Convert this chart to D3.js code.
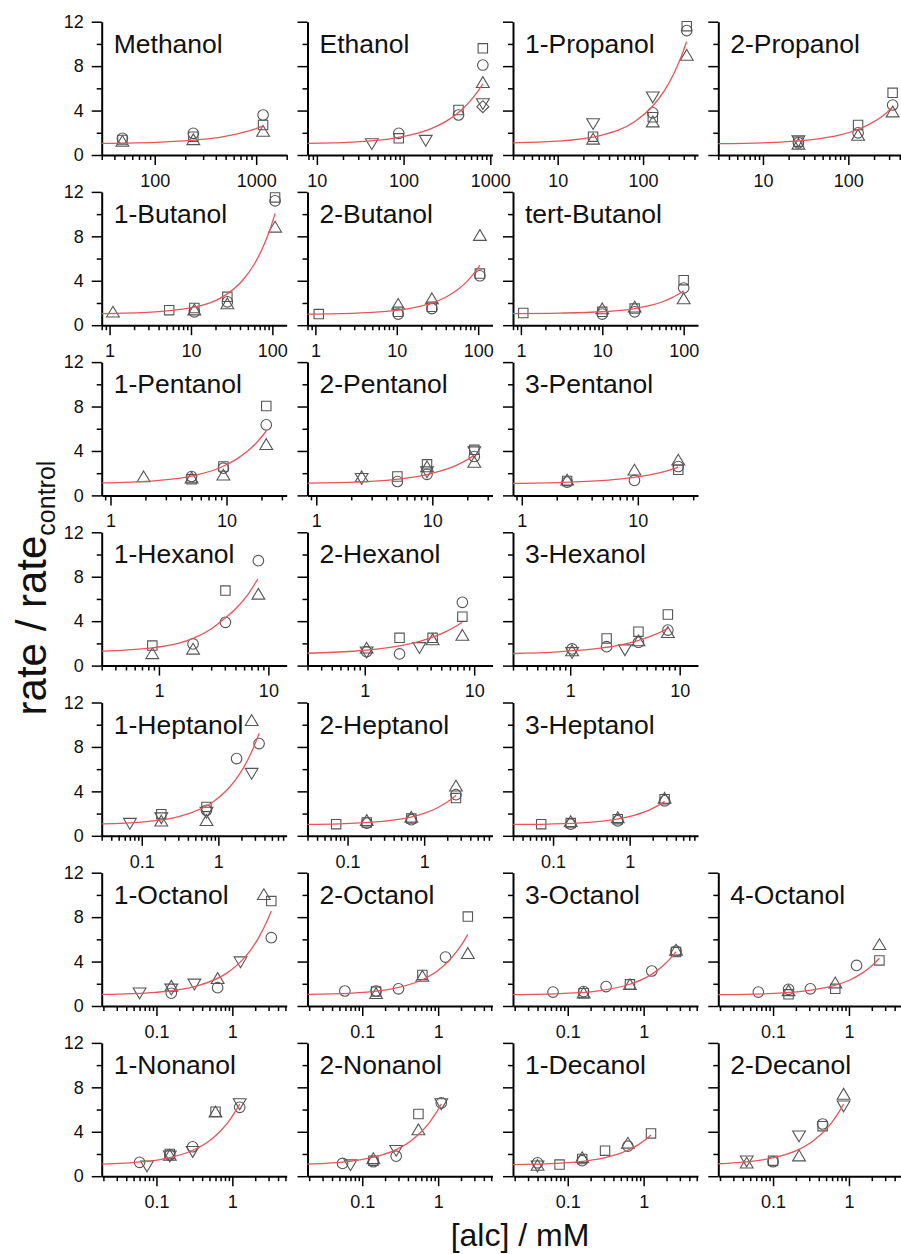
<!DOCTYPE html>
<html>
<head>
<meta charset="utf-8">
<script src="https://cdn.jsdelivr.net/npm/d3@7"></script>
<style>
  body { margin: 0; background: #fff; }
  text { font-family: "Liberation Sans", Arial, sans-serif; }
</style>
</head>
<body>
<svg id="chart" width="901" height="1254"></svg>
<script>
// ---- data ----
const names = ["Methanol", "Ethanol", "1-Propanol", "2-Propanol",
  "1-Butanol", "2-Butanol", "tert-Butanol",
  "1-Pentanol", "2-Pentanol", "3-Pentanol",
  "1-Hexanol", "2-Hexanol", "3-Hexanol",
  "1-Heptanol", "2-Heptanol", "3-Heptanol",
  "1-Octanol", "2-Octanol", "3-Octanol", "4-Octanol",
  "1-Nonanol", "2-Nonanol", "1-Decanol", "2-Decanol"];

const xDomains = [[30, 2000], [7.8, 1060], [3, 440], [3, 440],
  [0.8, 150], [0.8, 150], [0.8, 150],
  [0.84, 33], [0.84, 33], [0.84, 33],
  [0.3, 14.7], [0.3, 14.7], [0.3, 14.7],
  [0.03, 7.8], [0.03, 7.8], [0.03, 7.8],
  [0.019, 5.2], [0.019, 5.2], [0.019, 5.2], [0.019, 5.2],
  [0.019, 5.2], [0.019, 5.2], [0.019, 5.2], [0.019, 5.2]];

const xTickLabels = [["100", "1000"], ["10", "100", "1000"], ["10", "100"], ["10", "100"],
  ["1", "10", "100"], ["1", "10", "100"], ["1", "10", "100"],
  ["1", "10"], ["1", "10"], ["1", "10"],
  ["1", "10"], ["1", "10"], ["1", "10"],
  ["0.1", "1"], ["0.1", "1"], ["0.1", "1"],
  ["0.1", "1"], ["0.1", "1"], ["0.1", "1"], ["0.1", "1"],
  ["0.1", "1"], ["0.1", "1"], ["0.1", "1"], ["0.1", "1"]];

const yMajor = [0, 4, 8, 12];
const yTickLabels = ["0", "4", "8", "12"];
const yMinor = [2, 6, 10];

// points: [conc, rate ratio, symbol]  o circle, s square, t up-triangle, v down-triangle, d diamond
const methanolPts = [[48,1.5,"o"],[48,1.35,"s"],[48,1.25,"t"],[240,1.95,"o"],[240,1.65,"s"],[240,1.4,"t"],
  [1170,3.6,"o"],[1170,2.7,"s"],[1170,2.15,"t"]];
const ethanolPts = [[43,1.0,"v"],[88,1.95,"o"],[88,1.5,"s"],[180,1.3,"v"],[430,4.05,"s"],[430,3.6,"o"],
  [820,9.6,"s"],[820,8.1,"o"],[820,6.55,"t"],[820,4.6,"v"],[820,4.35,"d"]];
const propanol1Pts = [[26,2.8,"v"],[26,1.65,"s"],[26,1.45,"t"],[130,5.2,"v"],[130,3.8,"o"],[130,3.4,"s"],[130,3.0,"t"],
  [325,11.2,"o"],[325,11.6,"s"],[325,9.0,"t"]];
const propanol2Pts = [[26,1.2,"s"],[26,1.25,"v"],[26,1.0,"t"],[26,1.1,"o"],[130,2.7,"s"],[130,2.0,"o"],[130,1.8,"t"],
  [330,5.6,"s"],[330,4.5,"o"],[330,3.9,"t"]];
const butanol1Pts = [[1.1,1.2,"t"],[5.4,1.35,"s"],[11,1.55,"s"],[11,1.2,"o"],[11,1.4,"t"],[28,2.55,"s"],[28,2.1,"o"],[28,1.95,"t"],
  [108,11.5,"s"],[108,11.2,"o"],[108,8.85,"t"]];
const butanol2Pts = [[1.1,1.0,"s"],[10.4,1.9,"t"],[10.4,1.2,"s"],[10.4,1.0,"o"],[27,2.4,"t"],[27,1.65,"s"],[27,1.5,"o"],
  [105,8.1,"t"],[105,4.65,"s"],[105,4.45,"o"]];
const tertButanolPts = [[1.07,1.1,"s"],[10,1.5,"t"],[10,1.2,"s"],[10,1.0,"o"],[25,1.5,"s"],[25,1.65,"t"],[25,1.2,"o"],
  [100,4.05,"s"],[100,3.35,"o"],[100,2.4,"t"]];
const pentanol1Pts = [[1.93,1.7,"t"],[5,1.45,"s"],[5,1.7,"o"],[5,1.6,"t"],[9.4,2.6,"s"],[9.4,2.45,"o"],[9.4,1.85,"t"],
  [22,8.05,"s"],[22,6.35,"o"],[22,4.6,"t"]];
const pentanol2Pts = [[2.46,1.5,"v"],[2.46,1.7,"t"],[5,1.7,"s"],[5,1.25,"o"],[9,2.8,"s"],[9,2.6,"t"],[9,2.1,"v"],[9,1.9,"o"],
  [23,4.1,"s"],[23,3.9,"v"],[23,3.5,"o"],[23,3.0,"t"]];
const pentanol3Pts = [[2.46,1.2,"o"],[2.46,1.4,"t"],[2.46,1.3,"s"],[9.35,2.3,"t"],[9.35,1.35,"o"],
  [22.3,3.2,"t"],[22.3,2.3,"s"],[22.3,2.6,"o"]];
const hexanol1Pts = [[0.87,1.8,"s"],[0.87,1.1,"t"],[2.05,1.95,"o"],[2.05,1.5,"t"],[4.05,6.75,"s"],[4.05,3.9,"o"],
  [8.1,9.45,"o"],[8.1,6.45,"t"]];
const hexanol2Pts = [[1.04,1.6,"t"],[1.04,1.2,"v"],[1.04,1.25,"o"],[2.08,2.5,"s"],[2.08,1.05,"o"],[3.16,1.6,"v"],
  [4.17,2.35,"t"],[4.17,2.5,"s"],[7.8,5.7,"o"],[7.8,4.4,"s"],[7.8,2.75,"t"]];
const hexanol3Pts = [[1.04,1.5,"o"],[1.04,1.15,"v"],[1.04,1.35,"t"],[2.15,2.45,"s"],[2.15,1.7,"o"],[3.16,1.4,"v"],
  [4.2,3.05,"s"],[4.2,2.25,"t"],[4.2,2.1,"o"],[7.8,4.6,"s"],[7.8,3.2,"o"],[7.8,3.0,"t"]];
const heptanol1Pts = [[0.07,1.1,"v"],[0.18,1.95,"s"],[0.18,1.6,"v"],[0.18,1.35,"t"],[0.7,2.6,"s"],[0.7,2.3,"o"],[0.7,2.1,"v"],[0.7,1.4,"t"],
  [1.73,6.95,"o"],[2.72,5.6,"v"],[2.72,10.4,"t"],[3.4,8.3,"o"]];
const heptanol2Pts = [[0.071,1.05,"s"],[0.178,1.4,"t"],[0.178,1.15,"o"],[0.178,1.2,"s"],[0.68,1.7,"t"],[0.68,1.45,"o"],[0.68,1.55,"s"],
  [2.6,4.5,"t"],[2.6,3.7,"o"],[2.6,3.4,"s"]];
const heptanol3Pts = [[0.07,1.05,"s"],[0.17,1.3,"t"],[0.17,1.05,"o"],[0.17,1.15,"s"],[0.7,1.65,"t"],[0.7,1.35,"o"],[0.7,1.5,"s"],
  [2.86,3.4,"t"],[2.86,3.15,"o"],[2.86,3.3,"s"]];
const octanol1Pts = [[0.06,1.15,"v"],[0.157,1.8,"t"],[0.157,1.5,"v"],[0.157,1.15,"o"],[0.316,1.95,"v"],[0.64,2.5,"t"],[0.64,1.65,"o"],
  [1.28,3.95,"v"],[2.6,10.05,"t"],[3.26,9.45,"s"],[3.26,6.15,"o"]];
const octanol2Pts = [[0.059,1.35,"o"],[0.152,1.35,"o"],[0.152,1.15,"t"],[0.152,1.3,"s"],[0.3,1.55,"o"],[0.62,2.8,"s"],[0.62,2.7,"t"],
  [1.25,4.4,"o"],[2.46,8.05,"s"],[2.46,4.75,"t"]];
const octanol3Pts = [[0.064,1.25,"o"],[0.162,1.2,"t"],[0.162,1.3,"o"],[0.162,1.15,"s"],[0.32,1.75,"o"],[0.66,1.95,"t"],[0.66,1.95,"s"],
  [1.28,3.15,"o"],[2.67,5.05,"t"],[2.67,4.85,"s"],[2.67,4.95,"o"]];
const octanol4Pts = [[0.064,1.25,"o"],[0.16,1.4,"t"],[0.16,1.5,"o"],[0.16,1.05,"s"],[0.31,1.55,"o"],[0.66,2.1,"t"],[0.66,1.55,"s"],
  [1.26,3.65,"o"],[2.52,5.55,"t"],[2.52,4.1,"s"]];
const nonanol1Pts = [[0.06,1.25,"o"],[0.075,0.9,"v"],[0.15,2.0,"s"],[0.15,1.9,"o"],[0.15,1.9,"t"],[0.15,1.8,"v"],[0.3,2.65,"o"],[0.3,2.2,"v"],
  [0.6,5.8,"s"],[0.6,5.8,"t"],[1.25,6.5,"v"],[1.25,6.2,"o"]];
const nonanol2Pts = [[0.055,1.15,"o"],[0.07,1.0,"v"],[0.14,1.4,"s"],[0.14,1.3,"o"],[0.14,1.6,"t"],[0.28,1.8,"o"],[0.28,2.3,"v"],
  [0.55,5.6,"s"],[0.55,4.2,"t"],[1.1,6.6,"o"],[1.1,6.5,"v"]];
const decanol1Pts = [[0.04,1.2,"o"],[0.04,1.0,"t"],[0.04,0.9,"v"],[0.078,1.05,"s"],[0.155,1.7,"t"],[0.155,1.55,"s"],[0.155,1.4,"o"],
  [0.31,2.3,"s"],[0.62,3.0,"t"],[0.62,2.7,"o"],[1.25,3.85,"s"]];
const decanol2Pts = [[0.045,1.35,"v"],[0.045,1.2,"t"],[0.1,1.3,"o"],[0.1,1.4,"s"],[0.22,3.6,"v"],[0.22,1.85,"t"],
  [0.45,4.7,"o"],[0.45,4.5,"s"],[0.85,7.4,"t"],[0.85,6.3,"v"]];

// fitted curves: [conc, rate ratio]
const methanolFit = [[30,1.04],[116,1.16],[290,1.4],[464,1.64],[638,1.88],[812,2.12],[986,2.36],[1160,2.6]];
const ethanolFit = [[7.8,1.05],[25,1.16],[82,1.54],[205,2.35],[328,3.16],[451,3.97],[574,4.78],[697,5.59],[820,6.4]];
const propanol1Fit = [[3,1.1],[9.7,1.24],[32.3,1.77],[80.8,3.04],[129,4.39],[178,5.79],[226,7.23],[275,8.7],[323,10.2]];
const propanol2Fit = [[3,1.03],[10,1.1],[33,1.33],[82.5,1.83],[132,2.32],[181.5,2.82],[231,3.31],[280.5,3.81],[330,4.3]];
const butanol1Fit = [[0.8,1.05],[3.24,1.18],[10.8,1.62],[27,2.75],[43.2,4.05],[59.4,5.44],[75.6,6.92],[91.8,8.46],[108,10.05]];
const butanol2Fit = [[0.8,1.0],[3.15,1.09],[10.5,1.35],[26.25,1.96],[42,2.61],[57.75,3.28],[73.5,3.97],[89.25,4.68],[105,5.4]];
const tertButanolFit = [[0.8,1.05],[3,1.09],[10,1.21],[25,1.5],[40,1.8],[55,2.11],[70,2.43],[85,2.76],[100,3.1]];
const pentanol1Fit = [[0.84,1.12],[2.2,1.29],[5.5,1.83],[8.8,2.49],[12.1,3.24],[15.4,4.04],[18.7,4.9],[22,5.8]];
const pentanol2Fit = [[0.84,1.1],[2.3,1.21],[5.75,1.53],[9.2,1.9],[12.65,2.29],[16.1,2.71],[19.55,3.15],[23,3.6]];
const pentanol3Fit = [[0.84,1.07],[2.23,1.17],[5.6,1.38],[8.9,1.6],[12.3,1.83],[15.6,2.06],[19,2.3],[22.3,2.55]];
const hexanol1Fit = [[0.3,1.3],[0.5,1.4],[0.87,1.6],[1.5,2.0],[2.05,2.45],[3,3.3],[4.05,4.3],[5,5.1],[6.5,6.4],[8,7.8]];
const hexanol2Fit = [[0.3,1.11],[0.78,1.29],[1.95,1.73],[3.12,2.16],[4.29,2.6],[5.46,3.03],[6.63,3.47],[7.8,3.9]];
const hexanol3Fit = [[0.3,1.09],[0.78,1.24],[1.95,1.59],[3.12,1.94],[4.29,2.29],[5.46,2.65],[6.63,3.0],[7.8,3.35]];
const heptanol1Fit = [[0.03,1.07],[0.1,1.24],[0.34,1.82],[0.85,3.05],[1.36,4.28],[1.87,5.51],[2.38,6.74],[2.89,7.97],[3.4,9.2]];
const heptanol2Fit = [[0.03,1.03],[0.078,1.08],[0.26,1.27],[0.65,1.66],[1.04,2.06],[1.43,2.46],[1.82,2.86],[2.21,3.25],[2.6,3.65]];
const heptanol3Fit = [[0.03,1.02],[0.086,1.06],[0.286,1.21],[0.715,1.52],[1.14,1.84],[1.57,2.15],[2.0,2.47],[2.43,2.78],[2.86,3.1]];
const octanol1Fit = [[0.019,1.04],[0.098,1.23],[0.326,1.76],[0.815,2.89],[1.3,4.02],[1.79,5.15],[2.28,6.29],[2.77,7.42],[3.26,8.55]];
const octanol2Fit = [[0.019,1.04],[0.074,1.16],[0.246,1.54],[0.615,2.36],[0.984,3.18],[1.35,4.0],[1.72,4.82],[2.09,5.63],[2.46,6.45]];
const octanol3Fit = [[0.019,1.03],[0.08,1.12],[0.267,1.39],[0.668,1.98],[1.07,2.56],[1.47,3.14],[1.87,3.73],[2.27,4.31],[2.67,4.9]];
const octanol4Fit = [[0.019,1.02],[0.076,1.1],[0.252,1.33],[0.63,1.83],[1.01,2.32],[1.39,2.82],[1.76,3.31],[2.14,3.81],[2.52,4.3]];
const nonanol1Fit = [[0.019,1.08],[0.0375,1.17],[0.125,1.55],[0.3125,2.38],[0.5,3.2],[0.6875,4.03],[0.875,4.85],[1.0625,5.68],[1.25,6.5]];
const nonanol2Fit = [[0.019,1.1],[0.033,1.16],[0.11,1.55],[0.275,2.37],[0.44,3.2],[0.605,4.02],[0.77,4.85],[0.935,5.67],[1.1,6.5]];
const decanol1Fit = [[0.019,1.04],[0.0375,1.08],[0.125,1.27],[0.3125,1.68],[0.5,2.08],[0.6875,2.49],[0.875,2.89],[1.0625,3.3],[1.25,3.7]];
const decanol2Fit = [[0.019,1.12],[0.0255,1.16],[0.085,1.55],[0.2125,2.37],[0.34,3.2],[0.4675,4.02],[0.595,4.85],[0.7225,5.67],[0.85,6.5]];

const panelPoints = [methanolPts, ethanolPts, propanol1Pts, propanol2Pts,
  butanol1Pts, butanol2Pts, tertButanolPts,
  pentanol1Pts, pentanol2Pts, pentanol3Pts,
  hexanol1Pts, hexanol2Pts, hexanol3Pts,
  heptanol1Pts, heptanol2Pts, heptanol3Pts,
  octanol1Pts, octanol2Pts, octanol3Pts, octanol4Pts,
  nonanol1Pts, nonanol2Pts, decanol1Pts, decanol2Pts];
const panelFits = [methanolFit, ethanolFit, propanol1Fit, propanol2Fit,
  butanol1Fit, butanol2Fit, tertButanolFit,
  pentanol1Fit, pentanol2Fit, pentanol3Fit,
  hexanol1Fit, hexanol2Fit, hexanol3Fit,
  heptanol1Fit, heptanol2Fit, heptanol3Fit,
  octanol1Fit, octanol2Fit, octanol3Fit, octanol4Fit,
  nonanol1Fit, nonanol2Fit, decanol1Fit, decanol2Fit];

// ---- layout ----
const gridPos = [[0,0],[0,1],[0,2],[0,3],[1,0],[1,1],[1,2],[2,0],[2,1],[2,2],[3,0],[3,1],[3,2],
  [4,0],[4,1],[4,2],[5,0],[5,1],[5,2],[5,3],[6,0],[6,1],[6,2],[6,3]];
const colX = [101.7, 307.5, 513, 718.3];
const panelW = 185, panelH = 133.3, rowPitch = 170.2, top0 = 21.7;

const shapes = {
  o: "M5.3,0A5.3,5.3 0 1,1 -5.3,0A5.3,5.3 0 1,1 5.3,0Z",
  s: "M-4.7,-4.7H4.7V4.7H-4.7Z",
  t: "M0,-5.6L6.4,5.2L-6.4,5.2Z",
  v: "M0,5.6L6.4,-5.2L-6.4,-5.2Z",
  d: "M0,-6L6,0L0,6L-6,0Z"
};

const svg = d3.select("#chart");

function styleAxis(sel, fontSize) {
  sel.attr("font-family", null).attr("font-size", null);
  sel.select(".domain").attr("stroke", "#000").attr("stroke-width", 2);
  sel.selectAll(".tick line").attr("stroke", "#000").attr("stroke-width", 1.5);
  sel.selectAll(".tick text").attr("fill", "#111").attr("font-size", fontSize);
}

names.forEach((name, i) => {
  const [r, c] = gridPos[i];
  const g = svg.append("g").attr("transform", `translate(${colX[c]},${top0 + r * rowPitch})`);
  const x = d3.scaleLog().domain(xDomains[i]).range([0, panelW]);
  const y = d3.scaleLinear().domain([0, 12]).range([panelH, 0]);

  // minor log ticks
  const [lo, hi] = xDomains[i];
  const minor = [];
  for (let e = Math.floor(Math.log10(lo)); e <= Math.ceil(Math.log10(hi)); e++) {
    for (let k = 2; k <= 9; k++) {
      const v = +(k * Math.pow(10, e)).toPrecision(6);
      if (v >= lo && v <= hi) minor.push(v);
    }
  }
  g.append("g").attr("transform", `translate(0,${panelH})`)
    .call(d3.axisBottom(x).tickValues(minor).tickSize(5).tickFormat("").tickSizeOuter(0))
    .call(s => { styleAxis(s, 18); s.select(".domain").remove(); });
  g.append("g")
    .call(d3.axisLeft(y).tickValues(yMinor).tickSize(5).tickFormat("").tickSizeOuter(0))
    .call(s => { styleAxis(s, 18); s.select(".domain").remove(); });

  const major = xTickLabels[i].map(Number);
  g.append("g").attr("transform", `translate(0,${panelH})`)
    .call(d3.axisBottom(x).tickValues(major).tickFormat((d, j) => xTickLabels[i][j])
      .tickSize(10).tickPadding(9).tickSizeOuter(0))
    .call(s => styleAxis(s, 18));
  g.append("g")
    .call(d3.axisLeft(y).tickValues(yMajor).tickFormat((d, j) => c === 0 ? yTickLabels[j] : "")
      .tickSize(10).tickPadding(8).tickSizeOuter(0))
    .call(s => styleAxis(s, 18));

  g.append("g").selectAll("path")
    .data(panelPoints[i])
    .join("path")
    .attr("transform", d => `translate(${x(d[0])},${y(d[1])})`)
    .attr("d", d => shapes[d[2]])
    .attr("fill", "none")
    .attr("stroke", "#555")
    .attr("stroke-width", 1.1);

  const line = d3.line().x(d => x(d[0])).y(d => y(d[1])).curve(d3.curveMonotoneX);
  g.append("path")
    .datum(panelFits[i])
    .attr("d", line)
    .attr("fill", "none")
    .attr("stroke", "#e8545a")
    .attr("stroke-width", 1.3);

  g.append("text")
    .attr("x", 12).attr("y", 31)
    .attr("font-size", 26.5)
    .attr("fill", "#111")
    .text(name);
});

// axis titles
const yTitle = svg.append("text")
  .attr("transform", "translate(46,588) rotate(-90)")
  .attr("text-anchor", "middle")
  .attr("font-size", 42)
  .attr("fill", "#111");
yTitle.append("tspan").text("rate / rate");
yTitle.append("tspan").attr("font-size", 25).attr("dy", 9).text("control");

svg.append("text")
  .attr("x", 520).attr("y", 1246)
  .attr("text-anchor", "middle")
  .attr("font-size", 32)
  .attr("fill", "#111")
  .text("[alc] / mM");
</script>
</body>
</html>
